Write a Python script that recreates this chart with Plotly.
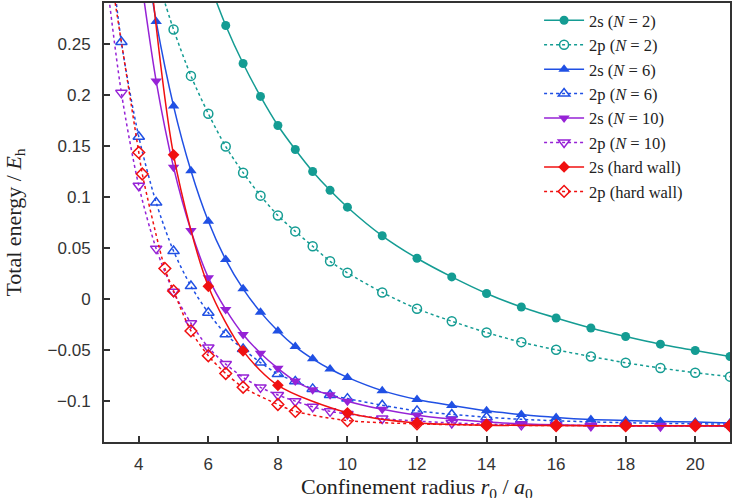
import plotly.graph_objects as go

# ---- data ----
x_n2_2s = [6.0, 6.5, 7.0, 7.5, 8.0, 8.5, 9.0, 9.5, 10, 11, 12, 13, 14, 15, 16, 17, 18, 19, 20, 21]
y_n2_2s = [0.312, 0.268, 0.2307, 0.1985, 0.170, 0.1465, 0.125, 0.1065, 0.090, 0.062, 0.040, 0.0217,
           0.0055, -0.0078, -0.0185, -0.0283, -0.0367, -0.0442, -0.0504, -0.0562]

x_n2_2p = [4.5, 5.0, 5.5, 6.0, 6.5, 7.0, 7.5, 8.0, 8.5, 9.0, 9.5, 10, 11, 12, 13, 14, 15, 16, 17, 18, 19, 20, 21]
y_n2_2p = [0.318, 0.264, 0.2186, 0.1816, 0.1494, 0.1238, 0.1013, 0.0819, 0.0663, 0.0517, 0.037, 0.0257,
           0.0065, -0.0095, -0.0217, -0.0328, -0.0422, -0.0497, -0.0562, -0.0624, -0.0676, -0.0721, -0.076]

x_n6_2s = [4.0, 4.5, 5.0, 5.5, 6.0, 6.5, 7.0, 7.5, 8.0, 8.5, 9.0, 9.5, 10, 11, 12, 13, 14, 15, 16, 17, 18, 19, 20, 21]
y_n6_2s = [0.38, 0.272, 0.189, 0.1257, 0.0763, 0.0387, 0.010, -0.0128, -0.0312, -0.0465, -0.0585, -0.0685,
           -0.0767, -0.0897, -0.0984, -0.1043, -0.1095, -0.1131, -0.1160, -0.1180, -0.1190, -0.1198, -0.1205, -0.1215]

x_n6_2p = [3.0, 3.5, 4.0, 4.5, 5.0, 5.5, 6.0, 6.5, 7.0, 7.5, 8.0, 8.5, 9.0, 9.5, 10, 11, 12, 13, 14, 15, 16, 17, 18, 19, 20, 21]
y_n6_2p = [0.40, 0.2518, 0.159, 0.0945, 0.047, 0.0127, -0.0134, -0.0344, -0.049, -0.0622, -0.0735, -0.0806,
           -0.088, -0.094, -0.0975, -0.104, -0.1095, -0.113, -0.1157, -0.1178, -0.1192, -0.1203, -0.1211,
           -0.1217, -0.1221, -0.1225]

x_n10_2s = [4.0, 4.5, 5.0, 5.5, 6.0, 6.5, 7.0, 7.5, 8.0, 8.5, 9.0, 9.5, 10, 11, 12, 13, 14, 15, 16, 17, 18, 19, 20, 21]
y_n10_2s = [0.33, 0.2135, 0.129, 0.0672, 0.021, -0.0102, -0.0347, -0.053, -0.0678, -0.0803, -0.0887, -0.0938,
            -0.100, -0.108, -0.1137, -0.1175, -0.1205, -0.1222, -0.1232, -0.1238, -0.1241, -0.1243, -0.1244, -0.1245]

x_n10_2p = [3.0, 3.5, 4.0, 4.5, 5.0, 5.5, 6.0, 6.5, 7.0, 7.5, 8.0, 8.5, 9.0, 9.5, 10, 11, 12, 13, 14, 15, 16, 17, 18, 19, 20, 21]
y_n10_2p = [0.335, 0.202, 0.111, 0.0494, 0.0071, -0.0237, -0.0474, -0.0637, -0.0767, -0.0865, -0.094, -0.100,
            -0.1055, -0.110, -0.1125, -0.117, -0.1195, -0.1213, -0.1225, -0.1232, -0.1237, -0.1240, -0.1242,
            -0.1243, -0.1244, -0.1245]

x_hw_2s = [4.0, 5.0, 6.0, 7.0, 8.0, 10, 12, 14, 16, 18, 20, 21]
y_hw_2s = [0.43, 0.1413, 0.0125, -0.0507, -0.0845, -0.1114, -0.1215, -0.1235, -0.1239, -0.1240, -0.1240, -0.1240]

x_hw_2p = [3.0, 4.0, 4.1, 4.75, 5.0, 5.5, 6.0, 6.5, 7.0, 8.0, 8.5, 10, 12, 14, 16, 18, 20, 21]
y_hw_2p = [0.36, 0.1436, 0.1225, 0.030, 0.008, -0.0312, -0.0555, -0.0729, -0.0864, -0.1033, -0.110, -0.119,
           -0.1222, -0.1235, -0.1239, -0.1240, -0.1240, -0.1240]

x_ticks = [4, 6, 8, 10, 12, 14, 16, 18, 20]
y_ticks = [-0.1, -0.05, 0, 0.05, 0.1, 0.15, 0.2, 0.25]
y_ticktext = ["\u22120.1", "\u22120.05", "0", "0.05", "0.1", "0.15", "0.2", "0.25"]

x_title = "Confinement radius <i>r</i><sub>0</sub> / <i>a</i><sub>0</sub>"
y_title = "Total energy / <i>E</i><sub>h</sub>"

TEAL = "#149c93"
BLUE = "#2050e4"
PURPLE = "#9622d6"
RED = "#f01010"

series = [
    ("2s (<i>N</i> = 2)", x_n2_2s, y_n2_2s, TEAL, "circle", "solid"),
    ("2p (<i>N</i> = 2)", x_n2_2p, y_n2_2p, TEAL, "circle-open", "dot"),
    ("2s (<i>N</i> = 6)", x_n6_2s, y_n6_2s, BLUE, "triangle-up", "solid"),
    ("2p (<i>N</i> = 6)", x_n6_2p, y_n6_2p, BLUE, "triangle-up-open", "dot"),
    ("2s (<i>N</i> = 10)", x_n10_2s, y_n10_2s, PURPLE, "triangle-down", "solid"),
    ("2p (<i>N</i> = 10)", x_n10_2p, y_n10_2p, PURPLE, "triangle-down-open", "dot"),
    ("2s (hard wall)", x_hw_2s, y_hw_2s, RED, "diamond", "solid"),
    ("2p (hard wall)", x_hw_2p, y_hw_2p, RED, "diamond-open", "dot"),
]

SERIF = "Liberation Serif, Times New Roman, serif"

fig = go.Figure()
for name, xs, ys, col, sym, dash in series:
    open_ = sym.endswith("open")
    fig.add_trace(go.Scatter(
        x=xs, y=ys, name=name, mode="lines+markers",
        line=dict(color=col, width=1.5, dash=dash, shape="spline", smoothing=0.8),
        marker=dict(symbol=sym, size=10 if "triangle" in sym else 9, color=col,
                    line=dict(color=col, width=1.5 if open_ else 0)),
    ))

fig.update_layout(
    width=733, height=498,
    margin=dict(l=104, r=3, t=3, b=56, autoexpand=False),
    paper_bgcolor="white", plot_bgcolor="white",
    showlegend=True,
    legend=dict(x=0.695, y=1.0, xanchor="left", yanchor="top",
                font=dict(family=SERIF, size=16.5, color="#222"),
                bgcolor="rgba(255,255,255,0)", tracegroupgap=0, itemwidth=40),
    font=dict(family="Liberation Sans, Arial, sans-serif", size=17, color="#333"),
    annotations=[dict(text=x_title, xref="paper", yref="paper", x=0.5, y=-0.068,
                      xanchor="center", yanchor="top", showarrow=False,
                      font=dict(family=SERIF, size=22, color="#222"))],
)
fig.update_xaxes(
    range=[3, 21], tickvals=x_ticks, ticks="inside", ticklen=6, tickwidth=1.5, tickcolor="#333",
    showline=True, linecolor="#333", linewidth=2, mirror=True, showgrid=False, zeroline=False,
    tickfont=dict(size=17, color="#333"), ticklabelstandoff=6, automargin=False,
)
fig.update_yaxes(
    range=[-0.14, 0.29], tickvals=y_ticks, ticktext=y_ticktext, ticks="inside", ticklen=6, tickwidth=1.5,
    tickcolor="#333", showline=True, linecolor="#333", linewidth=2, mirror=True, showgrid=False, zeroline=False,
    tickfont=dict(size=17, color="#333"), ticklabelstandoff=8, automargin=False,
    title=dict(text=y_title, font=dict(family=SERIF, size=22, color="#222"), standoff=20),
)

fig.write_html("out.html")
